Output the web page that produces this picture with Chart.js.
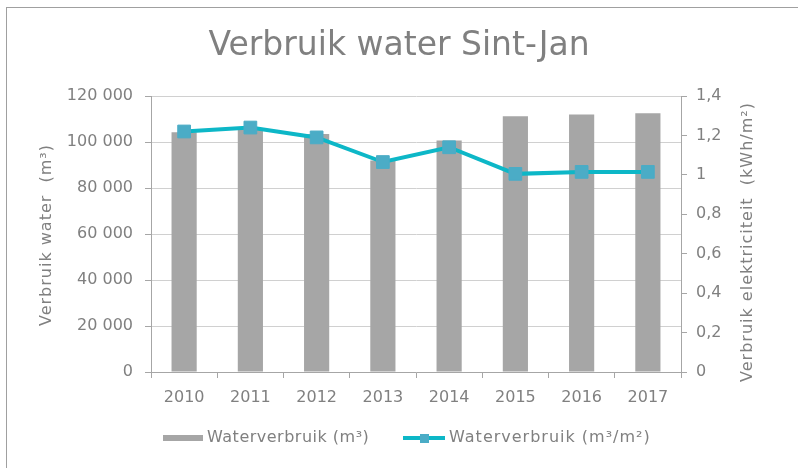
<!DOCTYPE html>
<html>
<head>
<meta charset="utf-8">
<script src="https://cdn.jsdelivr.net/npm/chart.js@4"></script>
<style>
  html, body { margin: 0; background: #fff; overflow: hidden; }
  #frame { position: absolute; left: 6px; top: 7px; right: 0; bottom: 0; border-top: 1px solid #a0a0a0; border-left: 1px solid #a0a0a0; }
  #wrap { position: absolute; left: 0; top: 0; width: 798px; height: 468px; }
</style>
</head>
<body>
<div id="frame"></div>
<div id="wrap"><canvas id="chart" width="798" height="468"></canvas></div>
<script>
const years = ["2010", "2011", "2012", "2013", "2014", "2015", "2016", "2017"];
const waterM3 = [104200, 105500, 103500, 92000, 100600, 111200, 112000, 112500];
const waterPerM2 = [1.22, 1.24, 1.19, 1.065, 1.14, 1.005, 1.015, 1.015];

const FONT = "'DejaVu Sans', sans-serif";
const GREY_TEXT = "#808080";
const BAR_COLOR = "#a6a6a6";
const LINE_COLOR = "#0db7c7";
const MARKER_COLOR = "#4bacc6";

// axis titles (right one reads bottom-to-top too) and the legend
const extras = {
  id: "extras",
  afterDraw(chart) {
    const ctx = chart.ctx;
    ctx.save();
    ctx.fillStyle = GREY_TEXT;
    ctx.font = "16px " + FONT;
    ctx.textAlign = "center";
    ctx.textBaseline = "middle";
    ctx.letterSpacing = "1px";

    ctx.save();
    ctx.translate(47, 235);
    ctx.rotate(-Math.PI / 2);
    ctx.fillText("Verbruik water  (m\u00b3)", 0, 0);
    ctx.restore();

    ctx.save();
    ctx.translate(748, 242);
    ctx.rotate(-Math.PI / 2);
    ctx.fillText("Verbruik elektriciteit  (kWh/m\u00b2)", 0, 0);
    ctx.restore();

    // legend
    const ly = 438;
    ctx.fillStyle = BAR_COLOR;
    ctx.fillRect(163, ly - 3, 40, 6);
    ctx.fillStyle = GREY_TEXT;
    ctx.textAlign = "left";
    ctx.letterSpacing = "0.5px";
    ctx.fillText(chart.data.datasets[0].label, 207, ly);

    ctx.strokeStyle = LINE_COLOR;
    ctx.lineWidth = 4;
    ctx.beginPath();
    ctx.moveTo(403, ly);
    ctx.lineTo(445, ly);
    ctx.stroke();
    ctx.fillStyle = MARKER_COLOR;
    ctx.fillRect(420, ly - 4, 9, 9);
    ctx.fillStyle = GREY_TEXT;
    ctx.letterSpacing = "1px";
    ctx.fillText(chart.data.datasets[1].label, 449, ly);
    ctx.restore();
  }
};

new Chart(document.getElementById("chart"), {
  data: {
    labels: years,
    datasets: [
      {
        type: "bar",
        label: "Waterverbruik (m\u00b3)",
        data: waterM3,
        backgroundColor: BAR_COLOR,
        barPercentage: 0.38,
        categoryPercentage: 1,
        yAxisID: "y",
        order: 1,
      },
      {
        type: "line",
        label: "Waterverbruik (m\u00b3/m\u00b2)",
        data: waterPerM2,
        borderColor: LINE_COLOR,
        borderWidth: 4,
        pointStyle: "rect",
        pointRadius: 9,
        pointBackgroundColor: MARKER_COLOR,
        pointBorderColor: MARKER_COLOR,
        pointBorderWidth: 1,
        tension: 0,
        yAxisID: "y1",
        order: 0,
      },
    ],
  },
  options: {
    responsive: false,
    animation: false,
    layout: { padding: 0 },
    plugins: {
      legend: { display: false },
      tooltip: { enabled: false },
      title: {
        display: true,
        text: "Verbruik water Sint-Jan",
        color: GREY_TEXT,
        font: { family: FONT, size: 33, weight: "normal" },
        padding: { top: 27, bottom: 29.4 },
      },
    },
    scales: {
      x: {
        afterFit: (s) => { s.height = 96; },
        grid: { offset: true, drawOnChartArea: false, tickLength: 6, color: "#a6a6a6" },
        border: { color: "#a6a6a6" },
        ticks: { color: GREY_TEXT, font: { family: FONT, size: 16 }, padding: 10 },
      },
      y: {
        position: "left",
        min: 0,
        max: 120000,
        afterFit: (s) => { s.width = 151; },
        grid: { color: "#d0d0d0", tickColor: "#a6a6a6", tickLength: 6 },
        border: { color: "#a6a6a6" },
        ticks: {
          stepSize: 20000,
          color: GREY_TEXT,
          font: { family: FONT, size: 16 },
          padding: 12,
          callback: (v) => String(v).replace(/\B(?=(\d{3})+(?!\d))/g, " "),
        },
      },
      y1: {
        position: "right",
        min: 0,
        max: 1.4,
        afterFit: (s) => { s.width = 117; },
        grid: { drawOnChartArea: false, color: "#a6a6a6", tickLength: 6 },
        border: { color: "#a6a6a6" },
        ticks: {
          stepSize: 0.2,
          color: GREY_TEXT,
          font: { family: FONT, size: 16 },
          padding: 9,
          callback: (v) => String(Math.round(v * 10) / 10).replace(".", ","),
        },
      },
    },
  },
  plugins: [extras],
});
</script>
</body>
</html>
